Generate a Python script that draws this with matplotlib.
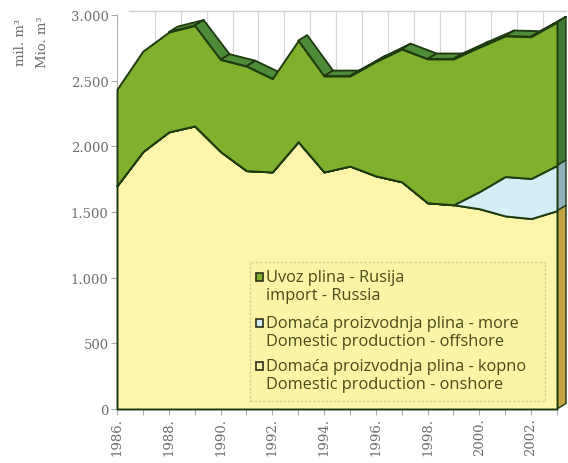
import numpy as np
import matplotlib.pyplot as plt
from matplotlib.patches import Polygon, Rectangle
from matplotlib.ticker import FuncFormatter

years = np.arange(1986, 2004)
onshore = np.array([1700, 1960, 2110, 2155, 1960, 1815, 1805, 2035, 1805,
                    1850, 1775, 1730, 1570, 1555, 1525, 1470, 1450, 1510])
offshore = np.array([0, 0, 0, 0, 0, 0, 0, 0, 0,
                     0, 0, 0, 0, 0, 130, 300, 305, 345])
total = np.array([2435, 2725, 2870, 2920, 2660, 2610, 2515, 2805, 2535,
                  2535, 2645, 2740, 2665, 2665, 2755, 2840, 2835, 2945])
russia = total - onshore - offshore

legend_names = ["russia", "offshore", "onshore"]
legend_labels = [("Uvoz plina - Rusija", "import - Russia"),
                 ("Domaća proizvodnja plina - more", "Domestic production - offshore"),
                 ("Domaća proizvodnja plina - kopno", "Domestic production - onshore")]

FRONT = {"russia": "#80b12c", "offshore": "#d3eef5", "onshore": "#fdf6aa"}
SIDE = {"russia": "#3f7a33", "offshore": "#8fb1bb", "onshore": "#c2a447"}
TOP = "#4f8c3a"
EDGE = "#1d3a10"
TEXT = "#4a4a1a"

W, H = 568, 464
fig = plt.figure(figsize=(W / 100, H / 100), dpi=100)
ax = fig.add_axes([117 / W, 54 / H, 440 / W, 394 / H])
ax.set_xlim(1986, 2003)
ax.set_ylim(0, 3000)


def fpos(x, y):
    # pixel position (from top-left) -> figure fraction
    return x / W, 1 - y / H


# depth of the fake 3d extrusion, pixels -> data units
DX_PX, DY_PX = 9, 5.5
px_x = 440 / 17
px_y = 394 / 3000
dx = DX_PX / px_x
dy = DY_PX / px_y

# back wall gridlines
grid_off = 12 / px_x
ax.vlines(years[1:] + grid_off, 0, 3000 + 4 / px_y, color="#d8d8d8", lw=0.9,
          zorder=1, clip_on=False)
ax.plot([1986 + grid_off, 2003 + dx], [3000 + 4 / px_y] * 2, color="#d0d0d0",
        lw=1.0, zorder=1, clip_on=False)

layers = [("onshore", np.zeros_like(onshore), onshore),
          ("offshore", onshore, onshore + offshore),
          ("russia", onshore + offshore, total)]

# top surface of the stack, only where it faces up
for i in range(len(years) - 1):
    slope = (total[i + 1] - total[i]) * px_y / px_x
    if slope < DY_PX / DX_PX:
        pts = [(years[i], total[i]), (years[i + 1], total[i + 1]),
               (years[i + 1] + dx, total[i + 1] + dy), (years[i] + dx, total[i] + dy)]
        ax.add_patch(Polygon(pts, closed=True, fc=TOP, ec=EDGE, lw=1.3,
                             zorder=2, clip_on=False, joinstyle="round"))

# right end faces
for name, lo, hi in layers:
    a, b = lo[-1], hi[-1]
    if b - a <= 0:
        continue
    pts = [(2003, a), (2003, b), (2003 + dx, b + dy), (2003 + dx, a + dy)]
    ax.add_patch(Polygon(pts, closed=True, fc=SIDE[name], ec=EDGE, lw=1.0,
                         zorder=2, clip_on=False))

# front faces
for name, lo, hi in layers:
    ax.fill_between(years, lo, hi, facecolor=FRONT[name], edgecolor=EDGE,
                    lw=1.4, zorder=3, clip_on=False)

for s in ["top", "right"]:
    ax.spines[s].set_visible(False)
ax.spines["left"].set_color("#b0b0b0")
ax.spines["bottom"].set_color("#c8c8c8")
ax.spines["left"].set_zorder(0)

serif = "DejaVu Serif"
ax.set_yticks([0, 500, 1000, 1500, 2000, 2500, 3000])
ax.yaxis.set_major_formatter(FuncFormatter(lambda v, p: f"{int(v):,}".replace(",", ".")))
ax.set_xticks(years)
ax.set_xticklabels([f"{y}." if (y - 1986) % 2 == 0 else "" for y in years],
                   rotation=90)
ax.tick_params(axis="both", length=4, color="#aaaaaa", labelcolor="#6e6e6e",
               labelsize=9.5, pad=2)
for t in ax.get_xticklabels() + ax.get_yticklabels():
    t.set_family(serif)

fig.text(*fpos(20, 42), "mil. m³", rotation=90, ha="center", va="center",
         family=serif, fontsize=9.5, color="#6e6e6e")
fig.text(*fpos(43, 42), "Mio. m³", rotation=90, ha="center", va="center",
         family=serif, fontsize=9.5, color="#6e6e6e")

# legend, drawn by hand so the swatch sits on the first line of each entry
x0, y0 = fpos(250, 402)
x1, y1 = fpos(545, 263)
fig.patches.append(Rectangle((x0, y0), x1 - x0, y1 - y0, transform=fig.transFigure,
                             fc="#fbf3a6", ec="#d9d191", lw=1.0, ls=(0, (2, 1)),
                             zorder=5))
line_y = [(278, 296), (324, 342), (367, 385)]
for name, (l1, l2), (ya, yb) in zip(legend_names, legend_labels, line_y):
    sx, sy = fpos(256, ya + 4)
    fig.patches.append(Rectangle((sx, sy), 7 / W, 8 / H, transform=fig.transFigure,
                                 fc=FRONT[name], ec="#2e2e18", lw=1.2, zorder=6))
    fig.text(*fpos(266, ya), l1, ha="left", va="center", family="Open Sans",
             fontsize=11.8, color=TEXT, zorder=6)
    fig.text(*fpos(266, yb), l2, ha="left", va="center", family="Open Sans",
             fontsize=11.8, color=TEXT, zorder=6)

fig.savefig("out.png", dpi=100)
